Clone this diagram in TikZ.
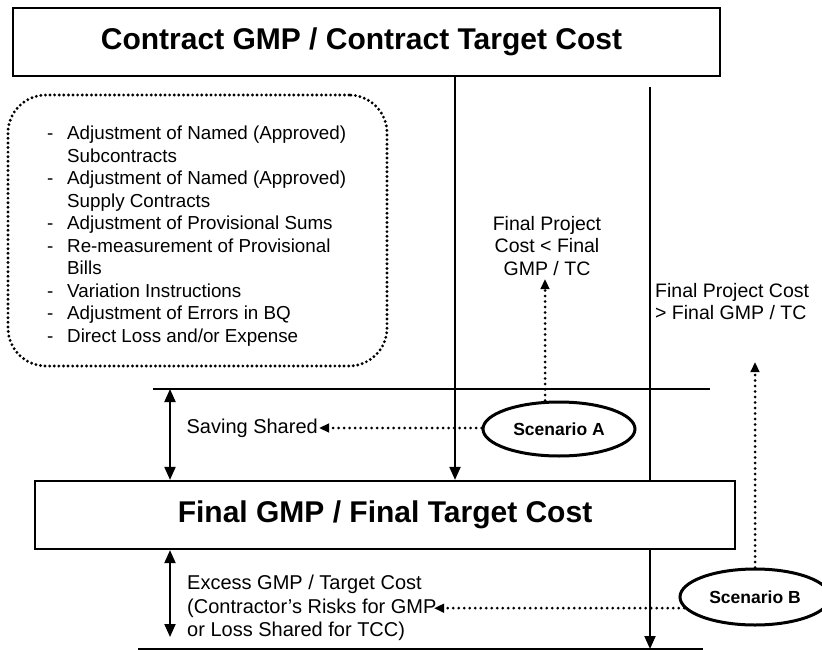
\documentclass[tikz,border=0pt]{standalone}
\usepackage{fontspec}
\setmainfont{Liberation Sans}
\usetikzlibrary{arrows.meta,shapes.geometric}
\begin{document}
\begin{tikzpicture}[x=1pt,y=-1pt,
  box/.style={draw,line width=2.2pt,fill=white,inner sep=0pt,font=\fontsize{30}{36}\selectfont\bfseries},
  hline/.style={line width=1.6pt},
  arr/.style={line width=2pt,-{Triangle[length=13pt,width=11pt]}},
  darr/.style={line width=2pt,{Triangle[length=13pt,width=11pt]}-{Triangle[length=13pt,width=11pt]}},
  dotarr/.style={line width=3pt,line cap=round,dash pattern=on 0pt off 5.5pt,-{Triangle[length=10pt,width=8.5pt]}},
  dotbox/.style={draw,line width=3.2pt,line cap=round,dash pattern=on 0pt off 4.6pt,rounded corners=38pt,inner sep=0pt},
  scen/.style={ellipse,draw,line width=3pt,inner sep=0pt,font=\fontsize{17.5}{20}\selectfont\bfseries},
  lbl/.style={inner sep=0pt,font=\fontsize{19.5}{22.5}\selectfont},
  lbltwo/.style={inner sep=0pt,font=\fontsize{20}{23.5}\selectfont},
  listtxt/.style={inner sep=0pt,align=left,font=\fontsize{18.8}{22.5}\selectfont}
]
\useasboundingbox (0,0) rectangle (822,650);

% reference coordinates
\coordinate (c1) at (455,0);
\coordinate (da) at (170,0);
\coordinate (l2top) at (650,87);
\coordinate (l2bot) at (650,649);
\coordinate (hlL) at (153,389);
\coordinate (hlR) at (710,389);
\coordinate (blL) at (138,649);
\coordinate (blR) at (703,649);
\coordinate (dabot) at (170,637);
\coordinate (tipA) at (545,279);
\coordinate (tipB) at (755,362);
\coordinate (exTip) at (434,606);

% top box
\node[box,minimum width=707pt,minimum height=68pt] (top) at (366.5,42) {Contract GMP / Contract Target Cost\hspace*{10pt}};

% dotted list box
\node[dotbox,minimum width=379pt,minimum height=271pt] (listbox) at (197.5,230.5) {};
\node[listtxt,anchor=north west] (list) at (47,126) {%
\makebox[20pt][l]{-}Adjustment of Named (Approved)\\
\hspace*{20pt}Subcontracts\\
\makebox[20pt][l]{-}Adjustment of Named (Approved)\\
\hspace*{20pt}Supply Contracts\\
\makebox[20pt][l]{-}Adjustment of Provisional Sums\\
\makebox[20pt][l]{-}Re-measurement of Provisional\\
\hspace*{20pt}Bills\\
\makebox[20pt][l]{-}Variation Instructions\\
\makebox[20pt][l]{-}Adjustment of Errors in BQ\\
\makebox[20pt][l]{-}Direct Loss and/or Expense};

% horizontal lines
\draw[hline] (hlL) -- (hlR);
\draw[hline] (blL) -- (blR);

% right vertical line (passes behind the final box)
\draw[arr] (l2top) -- (l2bot);

% final box
\node[box,minimum width=700pt,minimum height=68pt] (final) at (385,515) {Final GMP / Final Target Cost};

% left vertical line
\draw[arr] (top.south -| c1) -- (final.north -| c1);

% double arrows
\draw[darr] (hlL -| da) -- (final.north -| da);
\draw[darr] (final.south -| da) -- (dabot);

% texts
\node[lbl,align=center,anchor=north] (finA) at (547,216) {Final Project\\Cost < Final\\GMP / TC};
\node[lbl,align=left,anchor=north west] (finB) at (655,283) {Final Project Cost\\> Final GMP / TC};
\node[lbltwo,anchor=east,inner sep=1pt] (saving) at (319,428) {Saving Shared};
\node[lbltwo,align=left,anchor=north west] (excess) at (187,575) {Excess GMP / Target Cost\\(Contractor’s Risks for GMP\\or Loss Shared for TCC)};

% scenarios
\node[scen,minimum width=152pt,minimum height=54pt] (scA) at (559,429) {Scenario A};
\node[scen,minimum width=150pt,minimum height=56pt] (scB) at (755,597) {Scenario B};

% dotted arrows
\draw[dotarr] (scA.north -| tipA) -- (tipA);
\draw[dotarr] (scA.west |- saving.east) -- (saving.east);
\draw[dotarr] (scB.north) -- (tipB);
\draw[dotarr] (scB.189) -- (scB.189 -| exTip);
\end{tikzpicture}
\end{document}
